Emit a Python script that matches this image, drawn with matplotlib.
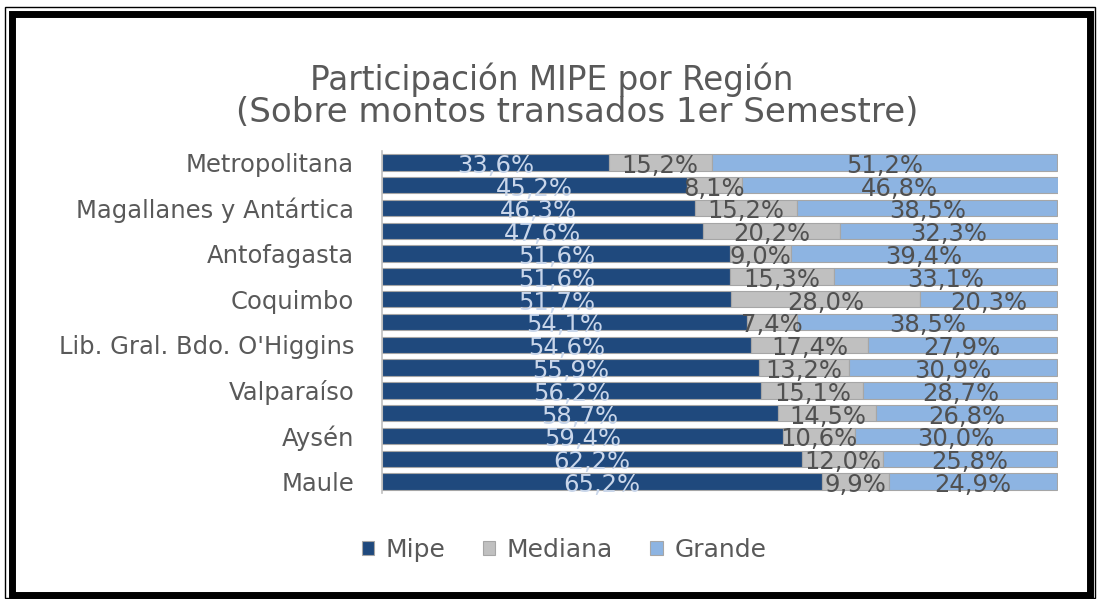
import matplotlib
matplotlib.use("Agg")
import matplotlib.pyplot as plt
from matplotlib.patches import Rectangle

# regions from top to bottom (only every other name is printed in the source chart)
regions = ["Metropolitana", "", "Magallanes y Antártica", "", "Antofagasta", "",
           "Coquimbo", "", "Lib. Gral. Bdo. O'Higgins", "", "Valparaíso", "",
           "Aysén", "", "Maule"]
mipe = [33.6, 45.2, 46.3, 47.6, 51.6, 51.6, 51.7, 54.1, 54.6, 55.9, 56.2, 58.7, 59.4, 62.2, 65.2]
mediana = [15.2, 8.1, 15.2, 20.2, 9.0, 15.3, 28.0, 7.4, 17.4, 13.2, 15.1, 14.5, 10.6, 12.0, 9.9]
grande = [51.2, 46.8, 38.5, 32.3, 39.4, 33.1, 20.3, 38.5, 27.9, 30.9, 28.7, 26.8, 30.0, 25.8, 24.9]

series = [("Mipe", mipe, "#1f497d", "#c9d6ea"),
          ("Mediana", mediana, "#c0c0c0", "#505050"),
          ("Grande", grande, "#8db4e2", "#505050")]

fig = plt.figure(figsize=(10.99, 5.99), dpi=100)
ax = fig.add_axes([0.3476, 0.177, 0.615, 0.571])

y = list(range(len(regions)))
left = [0.0] * len(regions)
for name, vals, color, tcolor in series:
    ax.barh(y, vals, left=left, height=0.72, color=color,
            edgecolor="#a6a6a6", linewidth=0.8, label=name)
    for yi, l, v in zip(y, left, vals):
        ax.text(l + v / 2, yi + 0.15, f"{v:.1f}%".replace(".", ","),
                ha="center", va="center", fontsize=17.5, color=tcolor)
    left = [a + b for a, b in zip(left, vals)]

ax.set_ylim(len(regions) - 0.5, -0.5)
ax.set_xlim(0, 100.1)
ax.set_yticks(y)
ax.set_yticklabels(regions, fontsize=17.5, color="#595959")
ax.tick_params(axis="y", length=0, pad=20)
ax.set_xticks([])
for s in ["top", "right", "bottom"]:
    ax.spines[s].set_visible(False)
ax.spines["left"].set_color("#bfbfbf")
ax.spines["left"].set_linewidth(1.2)

fig.text(552 / 1099, 1 - 80 / 599, "Participación MIPE por Región",
         ha="center", va="center", fontsize=23.5, color="#595959")
fig.text(577 / 1099, 1 - 113 / 599, "(Sobre montos transados 1er Semestre)",
         ha="center", va="center", fontsize=24.5, color="#595959")

fig.legend(loc="center", bbox_to_anchor=(564 / 1099, 1 - 550 / 599), ncol=3, frameon=False,
           fontsize=18, labelcolor="#595959", handlelength=0.5, handleheight=0.5,
           handletextpad=0.45, columnspacing=1.5)

# double black frame around the picture
fig.patches.append(Rectangle((5 / 1099, 1 / 599), 1090 / 1099, 591 / 599,
                             transform=fig.transFigure, fill=False,
                             edgecolor="black", linewidth=1.0))
fig.patches.append(Rectangle((12 / 1099, 4 / 599), 1078 / 1099, 581 / 599,
                             transform=fig.transFigure, fill=False,
                             edgecolor="black", linewidth=5))

fig.savefig("out.png", dpi=100)
